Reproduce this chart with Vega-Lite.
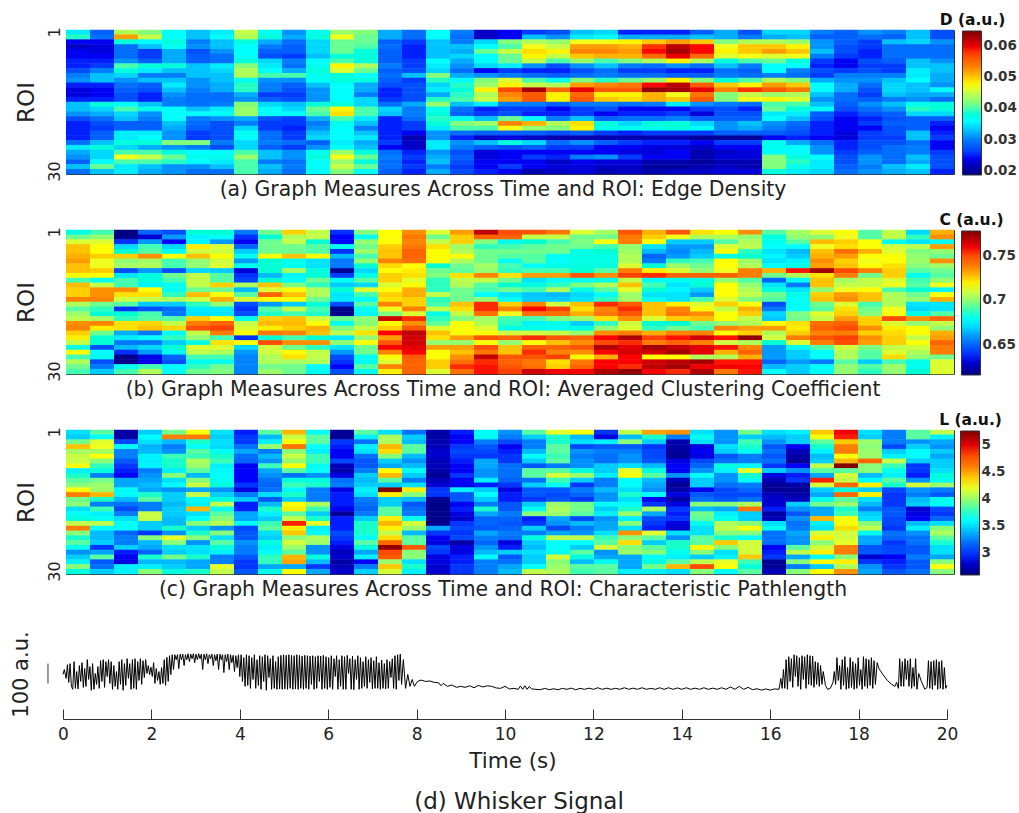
{"$schema":"https://vega.github.io/schema/vega-lite/v6.json","padding":{"left":10,"top":12,"right":0,"bottom":0},"background":"white","config":{"font":"DejaVu Sans","view":{"stroke":null},"axis":{"domainColor":"#333","tickColor":"#333","labelColor":"#222","titleColor":"#222","titleFontWeight":"normal","grid":false,"zindex":1},"legend":{"gradientLength":144,"gradientThickness":19,"gradientStrokeColor":"#333","gradientStrokeWidth":1,"labelFontSize":13.5,"labelFontWeight":"bold","labelColor":"#333","labelOffset":5,"titleFontSize":15.5,"titleFontWeight":"bold","titleColor":"#111","titleAnchor":"start","titleAlign":"center","titlePadding":3,"labelOverlap":false}},"datasets":{"a":[
{"roi":1,"v":[35,28,44,42,36,33,35,45,37,31,37,43,42,32,29,36,30,22,24,26,27,33,34,25,25,25,28,32,27,34,34,30,28,31,30,33,27]},
{"roi":2,"v":[39,29,52,45,36,33,36,44,38,32,38,47,41,32,29,36,29,22,24,33,31,35,36,32,32,32,33,32,30,32,33,28,28,29,28,33,27]},
{"roi":3,"v":[24,24,38,36,38,30,33,38,32,29,34,41,41,28,26,33,30,34,42,44,43,47,47,48,50,52,50,42,44,44,43,31,28,26,33,34,31]},
{"roi":4,"v":[22,23,29,33,37,31,33,36,30,28,34,41,40,29,25,33,33,36,40,47,45,52,52,51,58,62,59,47,50,50,48,31,27,26,29,29,29]},
{"roi":5,"v":[24,23,29,26,32,27,31,36,28,28,34,41,38,28,25,33,32,41,45,49,48,53,53,52,59,63,59,48,50,52,50,33,27,25,29,29,29]},
{"roi":6,"v":[24,24,29,26,32,28,29,36,27,26,33,38,38,28,25,33,34,36,41,48,45,50,51,51,55,60,55,46,47,46,47,30,26,25,29,29,29]},
{"roi":7,"v":[25,25,31,28,32,28,29,38,34,30,36,40,38,28,26,36,32,36,41,45,40,43,40,42,44,48,44,38,40,41,38,26,24,27,28,33,31]},
{"roi":8,"v":[25,26,40,38,38,33,35,42,35,29,37,48,44,30,26,35,31,34,35,31,27,31,33,30,29,31,29,33,30,36,36,25,24,26,26,33,33]},
{"roi":9,"v":[27,30,38,35,33,33,34,44,36,32,38,46,41,28,27,34,29,24,26,25,25,27,29,26,26,25,25,29,28,36,30,27,26,27,26,35,33]},
{"roi":10,"v":[30,33,34,30,30,33,33,44,40,40,37,38,36,29,33,42,32,31,30,29,28,29,30,29,29,28,28,30,29,30,29,26,30,30,30,35,32]},
{"roi":11,"v":[31,33,31,33,33,31,33,37,31,31,36,38,38,28,26,39,36,42,46,40,37,42,39,41,43,48,42,38,40,44,42,32,31,31,33,36,32]},
{"roi":12,"v":[25,25,29,28,35,31,32,39,30,28,33,36,32,27,27,34,39,43,48,45,44,52,53,54,59,62,56,50,48,52,50,36,32,29,34,33,31]},
{"roi":13,"v":[23,24,28,27,33,30,32,39,30,27,31,36,32,25,27,35,38,48,57,63,55,60,56,56,64,63,60,53,58,56,54,36,32,27,34,33,36]},
{"roi":14,"v":[23,24,27,25,31,29,29,32,26,26,31,36,30,25,27,32,39,44,53,56,48,55,48,48,51,47,54,42,45,43,44,33,29,26,33,32,32]},
{"roi":15,"v":[25,25,27,25,30,29,29,31,28,27,31,36,34,26,27,39,40,45,52,56,48,56,50,49,51,50,56,42,47,48,46,31,29,28,30,31,29]},
{"roi":16,"v":[33,38,36,33,30,29,30,42,34,33,38,38,34,29,32,43,33,35,30,30,28,30,30,29,30,35,31,30,29,40,40,33,28,31,33,37,38]},
{"roi":17,"v":[33,34,40,37,36,33,35,43,36,34,41,48,40,34,30,37,29,25,26,26,24,26,27,24,24,24,26,27,25,41,38,36,27,29,31,39,38]},
{"roi":18,"v":[31,32,34,31,36,36,36,43,36,36,40,49,40,33,30,38,28,26,27,25,25,26,24,25,25,26,23,27,27,35,35,28,25,27,28,34,34]},
{"roi":19,"v":[27,29,33,30,36,30,31,32,27,26,32,40,35,25,29,39,37,33,41,36,30,33,28,29,29,30,28,28,28,36,33,27,24,25,27,28,28]},
{"roi":20,"v":[25,27,28,28,33,29,27,30,26,26,30,37,33,25,26,38,42,43,53,51,44,49,38,34,38,38,34,31,33,31,29,25,24,26,28,28,25]},
{"roi":21,"v":[25,26,28,28,32,28,27,34,26,25,31,36,30,25,26,35,40,40,47,43,42,48,37,37,37,38,36,31,32,30,28,25,24,24,27,28,24]},
{"roi":22,"v":[25,28,35,35,31,26,27,37,29,26,33,36,33,25,24,31,29,28,28,28,27,28,26,25,26,26,26,28,28,28,27,25,23,26,27,33,25]},
{"roi":23,"v":[25,28,35,36,31,26,27,36,29,26,34,36,35,25,21,31,25,22,23,22,21,21,21,21,21,21,20,20,20,24,25,24,23,26,26,33,26]},
{"roi":24,"v":[29,33,38,38,42,42,30,34,30,29,28,35,32,26,22,35,31,33,38,34,29,31,28,26,25,25,24,26,26,37,32,29,25,27,27,29,24]},
{"roi":25,"v":[35,38,34,32,31,30,27,34,28,26,31,36,33,24,22,35,30,28,27,28,26,26,24,24,23,23,22,24,24,37,36,31,25,27,29,30,24]},
{"roi":26,"v":[32,34,40,40,38,36,36,40,33,31,37,43,38,29,25,31,27,23,24,24,24,24,24,23,23,24,21,22,23,36,36,31,26,28,29,30,26]},
{"roi":27,"v":[31,34,47,45,41,37,37,43,33,31,38,47,41,30,26,32,28,23,24,26,25,30,31,26,24,24,21,23,23,42,38,36,27,31,29,33,27]},
{"roi":28,"v":[28,36,40,40,39,36,35,40,30,29,36,43,38,29,25,33,27,24,24,24,22,24,23,23,21,21,20,21,21,42,39,35,27,31,29,32,27]},
{"roi":29,"v":[33,41,35,33,31,31,33,40,33,30,36,45,41,29,26,30,26,24,26,24,23,23,22,22,20,20,21,22,21,42,37,35,28,30,33,35,27]},
{"roi":30,"v":[29,33,35,32,31,29,29,40,32,29,36,42,36,28,25,32,27,25,24,21,22,23,21,22,21,22,22,23,23,38,35,34,29,31,32,33,25]}
],"b":[
{"roi":1,"v":[682,690,616,650,645,685,685,655,695,725,708,640,698,717,735,712,733,768,750,748,740,712,703,748,730,748,722,717,735,692,703,712,717,692,708,670,730]},
{"roi":2,"v":[695,700,618,630,660,675,678,640,685,705,708,636,680,717,740,695,725,745,745,708,708,695,695,740,725,715,705,705,700,683,700,700,715,692,708,688,735]},
{"roi":3,"v":[712,712,640,660,636,675,660,635,695,708,685,636,700,717,737,708,725,697,680,685,690,697,717,738,717,668,668,692,705,680,692,728,725,717,680,672,680]},
{"roi":4,"v":[727,717,670,690,670,720,712,650,695,695,692,680,695,725,740,722,702,688,690,693,695,695,690,700,672,660,660,712,707,677,677,715,722,717,710,707,733]},
{"roi":5,"v":[727,717,685,692,678,710,710,668,695,695,692,640,702,727,745,717,705,695,695,695,695,682,685,702,665,658,665,717,688,672,665,727,742,730,712,697,700]},
{"roi":6,"v":[730,725,725,735,717,727,717,680,717,727,717,665,690,727,745,717,717,695,692,692,680,682,682,705,650,660,668,682,685,675,668,730,733,717,717,700,695]},
{"roi":7,"v":[733,715,700,703,690,700,710,660,685,680,672,655,700,737,742,717,705,695,680,692,678,682,682,705,655,688,690,717,702,672,675,735,725,715,717,702,735]},
{"roi":8,"v":[727,715,703,705,690,700,712,680,685,680,672,655,685,723,717,685,695,703,690,678,682,683,683,712,685,702,695,717,705,677,682,732,727,717,722,698,702]},
{"roi":9,"v":[727,725,645,660,645,670,668,630,685,703,683,620,670,717,720,695,693,700,688,690,690,685,692,738,720,712,700,715,738,730,757,772,750,738,725,692,695]},
{"roi":10,"v":[717,717,672,683,695,708,692,640,665,675,685,642,682,725,722,697,722,737,722,733,733,748,735,752,755,745,745,745,738,695,705,722,738,695,725,680,692]},
{"roi":11,"v":[690,680,690,683,690,708,692,643,685,680,695,680,692,725,713,688,707,708,695,672,678,680,682,708,678,680,682,700,692,650,678,727,703,708,712,690,700]},
{"roi":12,"v":[728,708,690,675,680,708,725,705,727,697,688,668,670,712,717,688,705,692,685,683,688,697,705,727,690,672,685,717,700,672,655,727,708,708,715,692,715]},
{"roi":13,"v":[725,735,735,717,680,695,695,665,712,717,705,685,712,717,730,688,695,690,695,690,705,682,692,713,685,675,668,717,705,683,672,700,715,717,690,685,675]},
{"roi":14,"v":[725,735,722,722,688,728,717,692,745,727,705,672,690,725,730,708,695,677,672,667,665,670,678,702,672,672,660,717,708,695,682,725,733,727,705,695,717]},
{"roi":15,"v":[737,737,710,708,705,710,730,712,717,717,695,673,677,722,725,688,695,700,678,668,668,672,688,703,678,672,690,712,697,692,677,727,735,727,705,700,730]},
{"roi":16,"v":[705,695,692,668,668,688,700,645,660,668,683,645,692,737,725,690,727,755,725,737,710,727,755,747,727,720,712,725,717,645,680,695,712,690,705,672,672]},
{"roi":17,"v":[692,688,640,645,652,673,673,640,692,708,690,618,678,715,737,708,722,755,737,758,752,722,737,755,727,737,717,708,730,655,677,692,722,695,715,670,672]},
{"roi":18,"v":[702,685,685,690,655,672,672,645,687,690,687,618,675,697,712,682,708,742,715,742,742,730,740,748,727,740,735,717,725,670,697,713,725,698,717,682,692]},
{"roi":19,"v":[707,703,688,692,692,725,717,680,725,727,710,695,700,765,755,688,697,703,690,690,697,702,722,735,712,725,728,717,708,667,695,708,733,725,750,735,745]},
{"roi":20,"v":[735,737,722,724,708,738,745,708,728,728,717,680,698,718,735,693,717,705,688,675,682,668,688,710,685,685,695,700,705,717,722,742,745,725,712,700,708]},
{"roi":21,"v":[737,720,722,727,724,750,752,712,720,725,730,697,708,725,748,712,717,712,682,682,680,682,700,712,688,695,690,737,733,733,720,745,750,735,720,717,700]},
{"roi":22,"v":[725,695,663,655,677,708,738,717,740,737,727,707,722,758,768,727,717,717,710,710,708,700,735,738,730,737,737,717,725,705,725,737,738,725,723,717,730]},
{"roi":23,"v":[720,685,673,677,688,700,690,640,685,690,685,673,700,733,765,722,733,748,745,755,748,745,758,770,752,757,765,757,775,710,738,748,752,735,725,708,733]},
{"roi":24,"v":[708,685,655,655,668,682,722,717,750,735,735,700,717,748,765,700,700,717,700,717,727,735,750,755,738,745,737,710,705,685,712,738,750,733,725,717,745]},
{"roi":25,"v":[682,645,665,670,685,712,712,670,710,695,688,672,695,758,762,733,733,750,727,745,745,748,770,762,772,767,762,757,737,660,678,692,710,697,708,710,738]},
{"roi":26,"v":[717,677,640,660,680,708,705,660,710,718,708,660,695,737,758,717,727,740,727,755,737,735,758,765,765,772,762,730,745,660,668,677,705,692,712,705,738]},
{"roi":27,"v":[690,680,618,633,650,690,690,657,705,722,708,645,680,717,747,717,735,767,748,748,752,717,730,758,717,717,705,705,730,660,668,677,705,692,723,700,695]},
{"roi":28,"v":[705,645,618,633,645,680,680,657,705,703,705,640,680,712,745,725,742,755,745,740,722,740,758,758,765,768,772,757,757,650,660,655,692,668,690,682,712]},
{"roi":29,"v":[695,655,680,690,677,688,695,657,695,695,677,636,692,737,745,725,755,757,748,742,725,745,758,755,768,772,760,760,758,665,668,678,700,692,702,680,712]},
{"roi":30,"v":[690,668,690,705,677,695,697,657,702,695,680,645,680,720,745,712,742,757,752,765,760,758,770,775,758,755,770,740,757,678,668,678,700,688,700,685,712]}
],"c":[
{"roi":1,"v":[350,385,270,345,390,425,350,295,385,445,360,265,385,350,320,270,295,360,330,385,420,425,300,410,450,455,350,330,390,350,355,440,495,350,325,385,410]},
{"roi":2,"v":[345,360,270,360,460,462,345,300,340,412,385,265,355,405,345,270,290,365,325,345,375,340,285,340,375,325,365,330,345,340,345,425,490,345,325,385,355]},
{"roi":3,"v":[390,418,305,350,340,375,350,300,355,425,385,300,320,405,340,272,292,325,305,325,375,350,355,395,345,272,350,330,380,330,345,385,440,400,325,330,335]},
{"roi":4,"v":[442,422,358,338,325,360,348,320,400,465,360,295,355,445,385,275,300,310,290,325,385,305,310,310,300,270,285,350,375,310,290,375,460,395,305,345,330]},
{"roi":5,"v":[403,403,326,340,330,385,365,335,325,395,355,290,350,435,385,280,305,305,295,340,385,330,325,325,305,268,290,345,365,320,275,355,460,400,345,360,345]},
{"roi":6,"v":[412,425,326,355,380,380,375,320,340,412,380,290,320,395,340,280,300,300,300,360,380,325,320,330,305,265,285,310,325,310,270,340,425,400,355,360,335]},
{"roi":7,"v":[412,395,310,355,375,405,380,315,330,398,380,305,310,345,330,275,295,335,300,345,385,330,320,330,310,285,305,320,325,320,265,345,445,470,410,345,345]},
{"roi":8,"v":[425,378,300,355,375,400,355,290,380,425,365,275,310,335,340,275,290,335,320,310,325,330,345,350,340,290,315,370,358,300,290,410,525,395,380,300,345]},
{"roi":9,"v":[355,370,295,325,355,385,358,292,335,385,360,270,325,425,360,270,290,330,320,385,385,370,345,420,370,290,330,355,420,345,330,385,385,395,365,300,350]},
{"roi":10,"v":[375,325,290,330,395,340,360,292,330,320,330,285,345,445,345,265,300,330,320,385,415,400,355,425,385,330,360,330,375,285,295,335,415,340,355,295,370]},
{"roi":11,"v":[385,390,335,335,350,395,365,292,320,370,370,320,340,385,325,275,290,355,315,320,380,345,325,360,340,275,345,330,360,275,300,490,410,360,385,330,365]},
{"roi":12,"v":[395,400,335,340,360,412,370,300,315,380,375,325,345,345,350,280,290,295,300,345,365,300,325,360,335,265,345,320,325,265,270,415,470,430,375,415,400]},
{"roi":13,"v":[425,400,358,335,330,335,330,285,320,358,325,285,355,525,430,300,355,345,285,310,310,325,340,350,330,270,290,305,315,265,265,345,370,345,305,330,325]},
{"roi":14,"v":[460,445,358,375,345,412,345,325,350,375,325,295,350,430,395,300,310,360,295,310,305,315,330,375,360,285,310,305,305,275,270,335,470,430,300,325,310]},
{"roi":15,"v":[390,375,340,385,345,360,370,345,310,345,325,295,325,345,340,265,310,345,295,300,310,300,330,350,290,270,320,310,320,280,275,365,385,350,300,340,365]},
{"roi":16,"v":[395,325,320,325,340,355,410,295,340,425,405,295,320,345,310,262,290,325,310,345,400,390,360,360,300,285,395,395,405,280,345,390,400,340,300,345,360]},
{"roi":17,"v":[350,380,305,325,345,445,365,295,375,430,380,290,315,385,320,262,295,375,310,365,405,390,345,375,405,300,340,335,465,295,330,335,375,325,310,280,305]},
{"roi":18,"v":[360,355,325,412,345,350,385,335,355,385,345,265,325,385,325,262,285,335,325,395,400,385,355,400,335,295,390,355,345,270,310,335,380,345,310,285,300]},
{"roi":19,"v":[370,365,350,412,340,360,395,335,345,410,375,295,345,430,365,262,280,315,315,295,335,305,330,355,305,300,385,365,345,275,330,445,425,350,305,290,315]},
{"roi":20,"v":[410,410,360,345,340,395,408,360,380,490,420,295,375,445,415,262,300,315,310,300,330,340,335,395,300,285,365,405,395,350,320,355,425,395,305,340,350]},
{"roi":21,"v":[460,360,360,345,375,345,330,305,385,430,355,295,375,430,400,335,305,310,315,345,305,325,335,350,295,280,350,410,425,365,325,350,435,410,300,355,395]},
{"roi":22,"v":[395,340,315,300,330,375,395,310,350,440,360,305,375,410,340,300,300,335,325,325,335,330,350,455,418,350,350,395,395,320,335,415,415,365,320,330,405]},
{"roi":23,"v":[375,340,325,395,420,395,350,310,345,395,405,300,360,435,385,290,305,325,320,370,410,410,380,395,385,330,385,375,360,320,330,430,415,335,315,320,385]},
{"roi":24,"v":[385,345,325,340,395,330,385,330,370,415,400,295,385,470,385,285,270,315,285,345,360,360,385,435,345,375,385,440,415,320,330,395,420,335,300,320,375]},
{"roi":25,"v":[365,300,345,335,350,350,370,325,355,400,330,285,370,520,475,305,285,330,295,340,360,345,415,395,385,375,425,395,415,290,385,415,460,310,305,310,350]},
{"roi":26,"v":[330,335,295,315,345,350,355,325,360,385,330,275,335,480,395,300,285,340,345,350,365,385,330,400,395,365,395,350,415,295,410,430,460,310,305,310,350]},
{"roi":27,"v":[345,385,290,375,390,375,325,310,378,445,370,280,355,475,395,285,295,360,310,345,415,370,335,335,360,355,345,355,440,300,335,360,395,280,290,325,335]},
{"roi":28,"v":[355,310,285,340,340,335,325,300,378,450,340,270,290,400,350,285,295,325,320,345,395,340,365,335,370,385,410,420,380,265,395,425,430,300,295,310,395]},
{"roi":29,"v":[395,320,355,355,345,335,420,300,335,335,300,275,325,440,375,280,300,325,335,360,400,385,385,335,390,445,480,425,370,265,325,345,405,330,300,310,425]},
{"roi":30,"v":[370,345,355,395,370,375,410,310,365,425,335,280,345,415,355,280,300,325,340,410,405,380,385,355,355,350,395,360,385,275,395,425,455,335,310,320,395]}
],"w":[
{"t":0,"a":225},{"t":0.03,"a":250},{"t":0.07,"a":205},{"t":0.1,"a":275},{"t":0.13,"a":185},{"t":0.16,"a":280},{"t":0.19,"a":165},{"t":0.22,"a":150},{"t":0.25,"a":290},{"t":0.28,"a":155},{"t":0.31,"a":240},{"t":0.34,"a":152},{"t":0.37,"a":270},{"t":0.4,"a":190},{"t":0.43,"a":285},{"t":0.46,"a":160},{"t":0.49,"a":255},{"t":0.52,"a":165},{"t":0.55,"a":300},{"t":0.58,"a":200},{"t":0.61,"a":265},{"t":0.64,"a":145},{"t":0.67,"a":280},{"t":0.7,"a":150},{"t":0.73,"a":230},{"t":0.76,"a":175},{"t":0.79,"a":265},{"t":0.82,"a":155},{"t":0.85,"a":295},{"t":0.88,"a":190},{"t":0.91,"a":300},{"t":0.94,"a":160},{"t":0.97,"a":290},{"t":1,"a":215},{"t":1.03,"a":300},{"t":1.06,"a":180},{"t":1.09,"a":290},{"t":1.12,"a":150},{"t":1.15,"a":270},{"t":1.18,"a":165},{"t":1.21,"a":240},{"t":1.24,"a":150},{"t":1.27,"a":290},{"t":1.3,"a":175},{"t":1.33,"a":300},{"t":1.36,"a":145},{"t":1.39,"a":280},{"t":1.42,"a":170},{"t":1.45,"a":305},{"t":1.48,"a":205},{"t":1.51,"a":280},{"t":1.54,"a":150},{"t":1.57,"a":300},{"t":1.6,"a":155},{"t":1.63,"a":305},{"t":1.66,"a":150},{"t":1.69,"a":290},{"t":1.72,"a":195},{"t":1.75,"a":305},{"t":1.78,"a":175},{"t":1.81,"a":295},{"t":1.84,"a":210},{"t":1.87,"a":300},{"t":1.9,"a":230},{"t":1.93,"a":270},{"t":1.96,"a":225},{"t":1.99,"a":262},{"t":2.02,"a":215},{"t":2.05,"a":285},{"t":2.08,"a":180},{"t":2.11,"a":255},{"t":2.14,"a":195},{"t":2.17,"a":240},{"t":2.2,"a":175},{"t":2.23,"a":260},{"t":2.26,"a":180},{"t":2.29,"a":300},{"t":2.32,"a":170},{"t":2.35,"a":312},{"t":2.38,"a":190},{"t":2.41,"a":320},{"t":2.44,"a":225},{"t":2.47,"a":325},{"t":2.5,"a":250},{"t":2.53,"a":325},{"t":2.56,"a":300},{"t":2.59,"a":325},{"t":2.62,"a":255},{"t":2.65,"a":328},{"t":2.68,"a":300},{"t":2.71,"a":328},{"t":2.74,"a":270},{"t":2.77,"a":325},{"t":2.8,"a":300},{"t":2.83,"a":330},{"t":2.86,"a":290},{"t":2.89,"a":328},{"t":2.92,"a":305},{"t":2.95,"a":330},{"t":2.98,"a":285},{"t":3.01,"a":328},{"t":3.04,"a":300},{"t":3.07,"a":330},{"t":3.1,"a":305},{"t":3.13,"a":328},{"t":3.16,"a":250},{"t":3.19,"a":328},{"t":3.22,"a":300},{"t":3.25,"a":330},{"t":3.28,"a":280},{"t":3.31,"a":325},{"t":3.34,"a":305},{"t":3.37,"a":328},{"t":3.4,"a":270},{"t":3.43,"a":325},{"t":3.46,"a":295},{"t":3.49,"a":328},{"t":3.52,"a":250},{"t":3.55,"a":328},{"t":3.58,"a":300},{"t":3.61,"a":325},{"t":3.64,"a":235},{"t":3.67,"a":325},{"t":3.7,"a":290},{"t":3.73,"a":328},{"t":3.76,"a":250},{"t":3.79,"a":325},{"t":3.82,"a":285},{"t":3.85,"a":322},{"t":3.88,"a":240},{"t":3.91,"a":320},{"t":3.94,"a":260},{"t":3.97,"a":325},{"t":4,"a":215},{"t":4.03,"a":325},{"t":4.06,"a":190},{"t":4.09,"a":310},{"t":4.12,"a":165},{"t":4.15,"a":325},{"t":4.18,"a":170},{"t":4.21,"a":320},{"t":4.24,"a":155},{"t":4.27,"a":310},{"t":4.3,"a":200},{"t":4.33,"a":325},{"t":4.36,"a":155},{"t":4.39,"a":300},{"t":4.42,"a":170},{"t":4.45,"a":320},{"t":4.48,"a":150},{"t":4.51,"a":315},{"t":4.54,"a":190},{"t":4.57,"a":325},{"t":4.6,"a":145},{"t":4.63,"a":320},{"t":4.66,"a":210},{"t":4.69,"a":305},{"t":4.72,"a":150},{"t":4.75,"a":320},{"t":4.78,"a":155},{"t":4.81,"a":290},{"t":4.84,"a":150},{"t":4.87,"a":315},{"t":4.9,"a":152},{"t":4.93,"a":322},{"t":4.96,"a":150},{"t":4.99,"a":325},{"t":5.02,"a":152},{"t":5.05,"a":322},{"t":5.08,"a":150},{"t":5.11,"a":325},{"t":5.14,"a":155},{"t":5.17,"a":322},{"t":5.2,"a":150},{"t":5.23,"a":320},{"t":5.26,"a":152},{"t":5.29,"a":325},{"t":5.32,"a":150},{"t":5.35,"a":322},{"t":5.38,"a":155},{"t":5.41,"a":318},{"t":5.44,"a":150},{"t":5.47,"a":322},{"t":5.5,"a":155},{"t":5.53,"a":320},{"t":5.56,"a":150},{"t":5.59,"a":318},{"t":5.62,"a":175},{"t":5.65,"a":320},{"t":5.68,"a":150},{"t":5.71,"a":315},{"t":5.74,"a":155},{"t":5.77,"a":320},{"t":5.8,"a":190},{"t":5.83,"a":318},{"t":5.86,"a":150},{"t":5.89,"a":322},{"t":5.92,"a":155},{"t":5.95,"a":315},{"t":5.98,"a":150},{"t":6.01,"a":310},{"t":6.04,"a":160},{"t":6.07,"a":320},{"t":6.1,"a":150},{"t":6.13,"a":305},{"t":6.16,"a":215},{"t":6.19,"a":320},{"t":6.22,"a":150},{"t":6.25,"a":300},{"t":6.28,"a":165},{"t":6.31,"a":320},{"t":6.34,"a":150},{"t":6.37,"a":315},{"t":6.4,"a":150},{"t":6.43,"a":322},{"t":6.46,"a":230},{"t":6.49,"a":305},{"t":6.52,"a":150},{"t":6.55,"a":318},{"t":6.58,"a":148},{"t":6.61,"a":300},{"t":6.64,"a":200},{"t":6.67,"a":320},{"t":6.7,"a":150},{"t":6.73,"a":310},{"t":6.76,"a":155},{"t":6.79,"a":290},{"t":6.82,"a":165},{"t":6.85,"a":315},{"t":6.88,"a":155},{"t":6.91,"a":300},{"t":6.94,"a":185},{"t":6.97,"a":310},{"t":7,"a":152},{"t":7.03,"a":295},{"t":7.06,"a":155},{"t":7.09,"a":315},{"t":7.12,"a":155},{"t":7.15,"a":285},{"t":7.18,"a":150},{"t":7.21,"a":298},{"t":7.24,"a":155},{"t":7.27,"a":280},{"t":7.3,"a":152},{"t":7.33,"a":300},{"t":7.36,"a":155},{"t":7.39,"a":290},{"t":7.42,"a":210},{"t":7.45,"a":305},{"t":7.48,"a":155},{"t":7.51,"a":320},{"t":7.54,"a":150},{"t":7.57,"a":325},{"t":7.6,"a":195},{"t":7.63,"a":328},{"t":7.66,"a":175},{"t":7.7,"a":300},{"t":7.75,"a":155},{"t":7.8,"a":225},{"t":7.85,"a":165},{"t":7.9,"a":200},{"t":7.95,"a":165},{"t":8.02,"a":190},{"t":8.1,"a":197},{"t":8.2,"a":190},{"t":8.3,"a":192},{"t":8.4,"a":185},{"t":8.5,"a":183},{"t":8.55,"a":168},{"t":8.6,"a":180},{"t":8.7,"a":165},{"t":8.8,"a":172},{"t":8.9,"a":160},{"t":9,"a":165},{"t":9.1,"a":160},{"t":9.2,"a":168},{"t":9.3,"a":158},{"t":9.4,"a":170},{"t":9.5,"a":162},{"t":9.6,"a":168},{"t":9.7,"a":165},{"t":9.8,"a":157},{"t":9.9,"a":155},{"t":10,"a":165},{"t":10.1,"a":152},{"t":10.2,"a":155},{"t":10.3,"a":150},{"t":10.35,"a":167},{"t":10.4,"a":150},{"t":10.45,"a":168},{"t":10.5,"a":150},{"t":10.55,"a":165},{"t":10.6,"a":152},{"t":10.7,"a":150},{"t":10.8,"a":148},{"t":10.9,"a":155},{"t":11,"a":148},{"t":11.1,"a":153},{"t":11.2,"a":148},{"t":11.3,"a":155},{"t":11.4,"a":150},{"t":11.5,"a":156},{"t":11.6,"a":148},{"t":11.7,"a":155},{"t":11.8,"a":150},{"t":11.9,"a":156},{"t":12,"a":150},{"t":12.1,"a":158},{"t":12.2,"a":150},{"t":12.3,"a":156},{"t":12.4,"a":150},{"t":12.5,"a":155},{"t":12.6,"a":150},{"t":12.7,"a":158},{"t":12.8,"a":150},{"t":12.9,"a":156},{"t":13,"a":150},{"t":13.1,"a":158},{"t":13.2,"a":150},{"t":13.3,"a":155},{"t":13.4,"a":150},{"t":13.5,"a":158},{"t":13.6,"a":150},{"t":13.7,"a":158},{"t":13.8,"a":150},{"t":13.9,"a":157},{"t":14,"a":150},{"t":14.1,"a":158},{"t":14.2,"a":150},{"t":14.3,"a":156},{"t":14.4,"a":150},{"t":14.5,"a":158},{"t":14.6,"a":150},{"t":14.7,"a":156},{"t":14.8,"a":150},{"t":14.9,"a":158},{"t":15,"a":150},{"t":15.1,"a":162},{"t":15.2,"a":150},{"t":15.3,"a":165},{"t":15.4,"a":150},{"t":15.5,"a":160},{"t":15.6,"a":148},{"t":15.7,"a":153},{"t":15.8,"a":146},{"t":15.9,"a":152},{"t":16,"a":146},{"t":16.1,"a":152},{"t":16.2,"a":150},{"t":16.24,"a":205},{"t":16.27,"a":155},{"t":16.3,"a":250},{"t":16.33,"a":155},{"t":16.36,"a":300},{"t":16.39,"a":150},{"t":16.42,"a":315},{"t":16.45,"a":190},{"t":16.48,"a":305},{"t":16.51,"a":160},{"t":16.54,"a":325},{"t":16.57,"a":215},{"t":16.6,"a":320},{"t":16.63,"a":165},{"t":16.66,"a":310},{"t":16.69,"a":150},{"t":16.72,"a":320},{"t":16.75,"a":200},{"t":16.78,"a":315},{"t":16.81,"a":155},{"t":16.84,"a":325},{"t":16.87,"a":175},{"t":16.9,"a":320},{"t":16.93,"a":170},{"t":16.96,"a":318},{"t":16.99,"a":160},{"t":17.02,"a":290},{"t":17.05,"a":175},{"t":17.08,"a":285},{"t":17.11,"a":165},{"t":17.14,"a":270},{"t":17.17,"a":175},{"t":17.2,"a":240},{"t":17.25,"a":170},{"t":17.3,"a":150},{"t":17.36,"a":155},{"t":17.42,"a":185},{"t":17.45,"a":240},{"t":17.48,"a":175},{"t":17.51,"a":310},{"t":17.54,"a":195},{"t":17.57,"a":270},{"t":17.6,"a":150},{"t":17.63,"a":300},{"t":17.66,"a":170},{"t":17.69,"a":315},{"t":17.72,"a":150},{"t":17.75,"a":260},{"t":17.78,"a":155},{"t":17.81,"a":310},{"t":17.84,"a":160},{"t":17.87,"a":290},{"t":17.9,"a":150},{"t":17.93,"a":280},{"t":17.96,"a":155},{"t":17.99,"a":310},{"t":18.02,"a":170},{"t":18.05,"a":250},{"t":18.08,"a":150},{"t":18.11,"a":315},{"t":18.14,"a":165},{"t":18.17,"a":305},{"t":18.2,"a":155},{"t":18.23,"a":300},{"t":18.26,"a":170},{"t":18.29,"a":310},{"t":18.32,"a":155},{"t":18.35,"a":295},{"t":18.38,"a":175},{"t":18.42,"a":285},{"t":18.46,"a":255},{"t":18.55,"a":225},{"t":18.65,"a":195},{"t":18.75,"a":175},{"t":18.82,"a":165},{"t":18.86,"a":185},{"t":18.9,"a":155},{"t":18.93,"a":305},{"t":18.96,"a":165},{"t":18.99,"a":290},{"t":19.02,"a":165},{"t":19.05,"a":305},{"t":19.08,"a":200},{"t":19.11,"a":295},{"t":19.14,"a":165},{"t":19.17,"a":305},{"t":19.2,"a":155},{"t":19.23,"a":260},{"t":19.26,"a":165},{"t":19.29,"a":305},{"t":19.32,"a":150},{"t":19.36,"a":230},{"t":19.42,"a":190},{"t":19.5,"a":150},{"t":19.55,"a":160},{"t":19.58,"a":295},{"t":19.61,"a":155},{"t":19.64,"a":290},{"t":19.67,"a":150},{"t":19.7,"a":295},{"t":19.73,"a":170},{"t":19.76,"a":300},{"t":19.79,"a":150},{"t":19.82,"a":290},{"t":19.85,"a":155},{"t":19.88,"a":295},{"t":19.91,"a":150},{"t":19.94,"a":260},{"t":19.97,"a":155},{"t":20,"a":170}
],"bar":[{"t":-0.34,"low":180,"high":280}]},
"vconcat":[
{"width":888,"height":144,"data":{"name":"a"},"transform":[{"flatten":["v"]},{"window":[{"op":"row_number","as":"col"}],"groupby":["roi"]}],"layer":[
{"mark":{"type":"rect","stroke":null,"height":{"band":1.1}},"encoding":{"x":{"field":"col","type":"ordinal","sort":"ascending","scale":{"paddingInner":0,"paddingOuter":0},"axis":{"values":[5,10,15,20,25,30,35],"labels":false,"tickSize":-9,"title":"(a) Graph Measures Across Time and ROI: Edge Density","titleFontSize":20.4,"titleX":436.5,"titlePadding":5,"labelAngle":0}},"y":{"field":"roi","type":"ordinal","sort":"ascending","scale":{"paddingInner":0,"paddingOuter":0},"axis":{"values":[1,10,20,30],"labelExpr":"datum.value==1||datum.value==30?datum.label:''","tickSize":-9,"labelAngle":-90,"labelFontSize":16,"labelPadding":13,"title":"ROI","titleFontSize":23,"titleX":-28,"titleY":72}},"color":{"field":"v","type":"quantitative","scale":{"domain":[18.7,64.8],"range":["#00007f","#0000ff","#007fff","#00ffff","#7fff7f","#ffff00","#ff7f00","#ff0000","#7f0000"]},"legend":{"orient":"none","legendX":873.5,"legendY":-17.5,"title":"D (a.u.)","values":[20,30,40,50,60],"labelExpr":"format(datum.value/1000,'.2f')","encoding":{"title":{"dx":{"value":10}}}}}}},
{"mark":{"type":"rect","opacity":0},"encoding":{"x":{"field":"col","type":"ordinal","sort":"ascending","axis":{"orient":"top","values":[5,10,15,20,25,30,35],"labels":false,"tickSize":-9,"title":null}},"y":{"field":"roi","type":"ordinal","sort":"ascending","axis":{"orient":"right","values":[1,10,20,30],"labels":false,"tickSize":-9,"title":null}}}}
],"resolve":{"axis":{"x":"independent","y":"independent"}}},
{"width":888,"height":144,"data":{"name":"b"},"transform":[{"flatten":["v"]},{"window":[{"op":"row_number","as":"col"}],"groupby":["roi"]}],"layer":[
{"mark":{"type":"rect","stroke":null,"height":{"band":1.1}},"encoding":{"x":{"field":"col","type":"ordinal","sort":"ascending","scale":{"paddingInner":0,"paddingOuter":0},"axis":{"values":[5,10,15,20,25,30,35],"labels":false,"tickSize":-9,"title":"(b) Graph Measures Across Time and ROI: Averaged Clustering Coefficient","titleFontSize":20.4,"titleX":436.5,"titlePadding":5,"labelAngle":0}},"y":{"field":"roi","type":"ordinal","sort":"ascending","scale":{"paddingInner":0,"paddingOuter":0},"axis":{"values":[1,10,20,30],"labelExpr":"datum.value==1||datum.value==30?datum.label:''","tickSize":-9,"labelAngle":-90,"labelFontSize":16,"labelPadding":13,"title":"ROI","titleFontSize":23,"titleX":-28,"titleY":72}},"color":{"field":"v","type":"quantitative","scale":{"domain":[616,778],"range":["#00007f","#0000ff","#007fff","#00ffff","#7fff7f","#ffff00","#ff7f00","#ff0000","#7f0000"]},"legend":{"orient":"none","legendX":873.5,"legendY":-17.5,"title":"C (a.u.)","values":[650,700,750],"labelExpr":"format(datum.value/1000,'.2~f')","encoding":{"title":{"dx":{"value":10}}}}}}},
{"mark":{"type":"rect","opacity":0},"encoding":{"x":{"field":"col","type":"ordinal","sort":"ascending","axis":{"orient":"top","values":[5,10,15,20,25,30,35],"labels":false,"tickSize":-9,"title":null}},"y":{"field":"roi","type":"ordinal","sort":"ascending","axis":{"orient":"right","values":[1,10,20,30],"labels":false,"tickSize":-9,"title":null}}}}
],"resolve":{"axis":{"x":"independent","y":"independent"}}},
{"width":888,"height":144,"data":{"name":"c"},"transform":[{"flatten":["v"]},{"window":[{"op":"row_number","as":"col"}],"groupby":["roi"]}],"layer":[
{"mark":{"type":"rect","stroke":null,"height":{"band":1.1}},"encoding":{"x":{"field":"col","type":"ordinal","sort":"ascending","scale":{"paddingInner":0,"paddingOuter":0},"axis":{"values":[5,10,15,20,25,30,35],"labels":false,"tickSize":-9,"title":"(c) Graph Measures Across Time and ROI: Characteristic Pathlength","titleFontSize":20.4,"titleX":436.5,"titlePadding":5,"labelAngle":0}},"y":{"field":"roi","type":"ordinal","sort":"ascending","scale":{"paddingInner":0,"paddingOuter":0},"axis":{"values":[1,10,20,30],"labelExpr":"datum.value==1||datum.value==30?datum.label:''","tickSize":-9,"labelAngle":-90,"labelFontSize":16,"labelPadding":13,"title":"ROI","titleFontSize":23,"titleX":-28,"titleY":72}},"color":{"field":"v","type":"quantitative","scale":{"domain":[259,526],"range":["#00007f","#0000ff","#007fff","#00ffff","#7fff7f","#ffff00","#ff7f00","#ff0000","#7f0000"]},"legend":{"orient":"none","legendX":873.5,"legendY":-17.5,"title":"L (a.u.)","values":[300,350,400,450,500],"labelExpr":"format(datum.value/100,'.1~f')","encoding":{"title":{"dx":{"value":10}}}}}}},
{"mark":{"type":"rect","opacity":0},"encoding":{"x":{"field":"col","type":"ordinal","sort":"ascending","axis":{"orient":"top","values":[5,10,15,20,25,30,35],"labels":false,"tickSize":-9,"title":null}},"y":{"field":"roi","type":"ordinal","sort":"ascending","axis":{"orient":"right","values":[1,10,20,30],"labels":false,"tickSize":-9,"title":null}}}}
],"resolve":{"axis":{"x":"independent","y":"independent"}}},
{"width":888,"height":89,"title":{"text":"(d) Whisker Signal","orient":"bottom","fontSize":23,"fontWeight":"normal","color":"#222","dx":9,"offset":19},"layer":[
{"data":{"name":"w"},"mark":{"type":"line","color":"black","strokeWidth":1},"encoding":{"x":{"field":"t","type":"quantitative","scale":{"domain":[0,20],"range":[-3,881]},"axis":{"values":[0,2,4,6,8,10,12,14,16,18,20],"tickSize":-10,"labelFontSize":17,"labelPadding":17,"labelAngle":0,"labelFlush":false,"format":"d","title":"Time (s)","titleFontSize":21.5,"titleX":446.5,"titlePadding":8}},"y":{"field":"a","type":"quantitative","scale":{"domain":[0,445]},"axis":{"domain":false,"ticks":false,"labels":false,"title":"100 a.u.","titleFontSize":21,"titleX":-35,"titleY":44}}}},
{"data":{"name":"bar"},"mark":{"type":"rule","color":"#333","strokeWidth":1},"encoding":{"x":{"field":"t","type":"quantitative"},"y":{"field":"low","type":"quantitative"},"y2":{"field":"high"}}}
]}
],"spacing":56,"bounds":"flush","resolve":{"scale":{"color":"independent"},"legend":{"color":"independent"}}}
